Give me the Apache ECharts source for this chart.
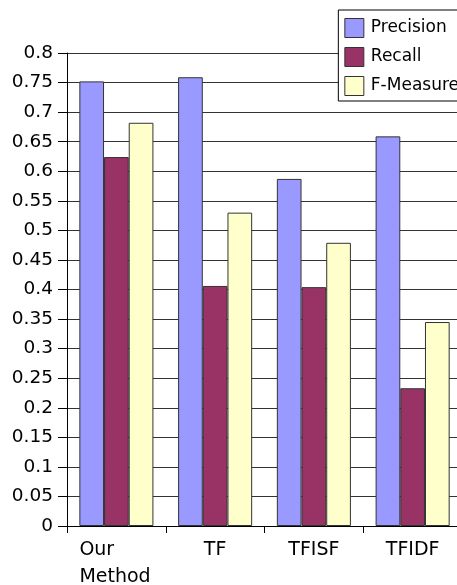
<!DOCTYPE html>
<html>
<head>
<meta charset="utf-8">
<script src="https://cdn.jsdelivr.net/npm/echarts@6/dist/echarts.min.js"></script>
<style>
  html, body { margin: 0; padding: 0; background: #fff; }
  #chart { width: 457px; height: 585px; }
</style>
</head>
<body>
<div id="chart"></div>
<script>
// Methods compared and their scores
const categories = ['Our\nMethod', 'TF', 'TFISF', 'TFIDF'];
const precision = [0.752, 0.759, 0.587, 0.659];
const recall = [0.624, 0.406, 0.404, 0.233];
const fMeasure = [0.682, 0.530, 0.479, 0.345];
const seriesNames = ['Precision', 'Recall', 'F-Measure'];
const seriesColors = ['#9999FF', '#993366', '#FFFFCC'];

const font = 'DejaVu Sans';
const chart = echarts.init(document.getElementById('chart'), null, { renderer: 'canvas' });

const barSeries = [precision, recall, fMeasure].map((values, i) => ({
  name: seriesNames[i],
  type: 'bar',
  data: values,
  barGap: '0%',
  barCategoryGap: '25%',
  itemStyle: { color: seriesColors[i], borderColor: '#333', borderWidth: 1 },
  emphasis: { disabled: true },
  animation: false
}));

chart.setOption({
  backgroundColor: '#fff',
  animation: false,
  grid: { left: 67, right: -5, top: 53, bottom: 59, containLabel: false, outerBoundsMode: 'none' },
  legend: {
    orient: 'vertical',
    right: -14,
    top: 10,
    padding: [8, 12, 5, 6],
    itemWidth: 19,
    itemHeight: 19,
    itemGap: 9,
    icon: 'rect',
    backgroundColor: '#fff',
    borderColor: '#000',
    borderWidth: 1,
    itemStyle: { borderColor: '#333', borderWidth: 1 },
    textStyle: { fontFamily: font, fontSize: 17, color: '#000', padding: [0, 0, 0, 2] },
    data: seriesNames
  },
  xAxis: {
    type: 'category',
    data: categories,
    axisLine: { lineStyle: { color: '#000', width: 1 } },
    axisTick: { show: true, length: 7, inside: false, lineStyle: { color: '#000' } },
    axisLabel: {
      interval: 0,
      margin: 11,
      color: '#000',
      fontFamily: font,
      fontSize: 19,
      lineHeight: 27,
      formatter: (v) => v.indexOf('\n') >= 0
        ? v.split('\n').map(s => '{l|' + s + '}').join('\n')
        : v,
      rich: {
        l: { width: 74, align: 'left', fontFamily: font, fontSize: 19, lineHeight: 27, color: '#000' }
      }
    },
    splitLine: { show: false }
  },
  yAxis: {
    type: 'value',
    min: 0,
    max: 0.8,
    interval: 0.05,
    axisLine: { show: true, lineStyle: { color: '#000', width: 1 } },
    axisTick: { show: true, length: 9, lineStyle: { color: '#000' } },
    axisLabel: {
      margin: 14,
      color: '#000',
      fontFamily: font,
      fontSize: 18.5,
      formatter: (v) => String(parseFloat(v.toFixed(2)))
    },
    splitLine: { show: true, lineStyle: { color: '#333', width: 1 } }
  },
  series: barSeries
});
</script>
</body>
</html>
